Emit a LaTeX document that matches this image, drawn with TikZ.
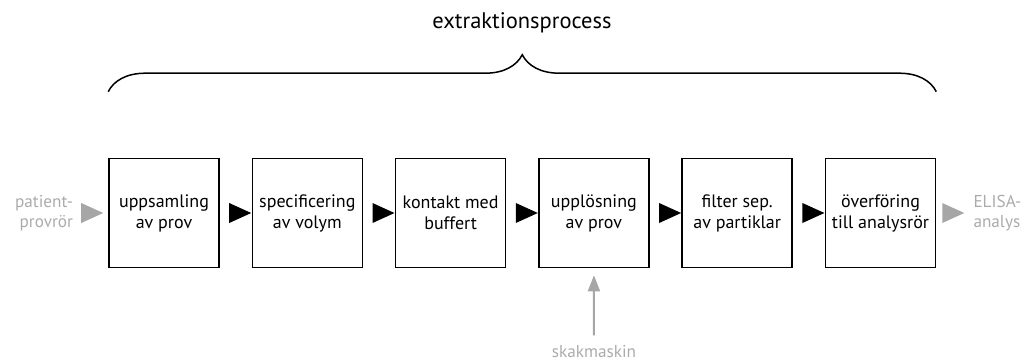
\documentclass[tikz,border=0pt]{standalone}
\usepackage{fontspec}
\setmainfont{PT Sans}
\usetikzlibrary{positioning,shapes.geometric,decorations.pathreplacing,arrows.meta}

\tikzset{
  stepbox/.style={draw, line width=1.6pt, minimum width=110pt, minimum height=109pt,
    inner sep=0pt, align=center, font=\fontsize{18}{21}\selectfont},
  tri/.style={isosceles triangle, isosceles triangle stretches, minimum width=20pt,
    minimum height=22pt, inner sep=0pt, outer sep=0pt, fill=black},
  greytri/.style={tri, fill=black!35},
  side/.style={text=black!33, font=\fontsize{17.2}{20}\selectfont},
}

\begin{document}
\begin{tikzpicture}[x=1pt,y=1pt]
  \useasboundingbox (0,0) rectangle (1025,-360);

  % the six steps
  \node[stepbox] (b1) at (164,-213) {uppsamling\\av prov};
  \node[stepbox, right=31.7pt of b1] (b2) {specificering\\av volym};
  \node[stepbox, right=31.7pt of b2] (b3) {kontakt med\\buffert};
  \node[stepbox, right=31.7pt of b3] (b4) {upplösning\\av prov};
  \node[stepbox, right=31.7pt of b4] (b5) {filter sep.\\av partiklar};
  \node[stepbox, right=31.7pt of b5] (b6) {överföring\\till analysrör};

  % arrowheads between steps
  \foreach \a/\b in {b1/b2,b2/b3,b3/b4,b4/b5,b5/b6}
    \path (\a) -- (\b) node[midway, tri] (t\a) {};

  % in and out
  \node[greytri, left=5pt of b1] (in) {};
  \node[side, left=7pt of in, align=right, inner sep=1pt] (src) {patient-\\provrör};
  \node[greytri, right=6pt of b6] (out) {};
  \node[side, right=9pt of out, align=left, inner sep=0pt] (dst) {ELISA-\\analys};

  % shaker
  \node[side, anchor=base] (shake) at (594,-357) {skakmaskin};
  \draw[-{Triangle[length=16pt,width=12pt]}, line width=2pt, black!35,
    shorten <=6pt, shorten >=7pt] (shake) -- (b4);

  % brace and title
  \coordinate (bl) at ([yshift=66pt]b1.north west);
  \coordinate (br) at ([yshift=66pt]b6.north east);
  \draw[line width=1.5pt, decorate, decoration={brace, amplitude=37pt}] (bl) -- (br);
  \node[anchor=base, font=\fontsize{22.5}{26}\selectfont] (title) at (522,-28) {extraktionsprocess};
\end{tikzpicture}
\end{document}
